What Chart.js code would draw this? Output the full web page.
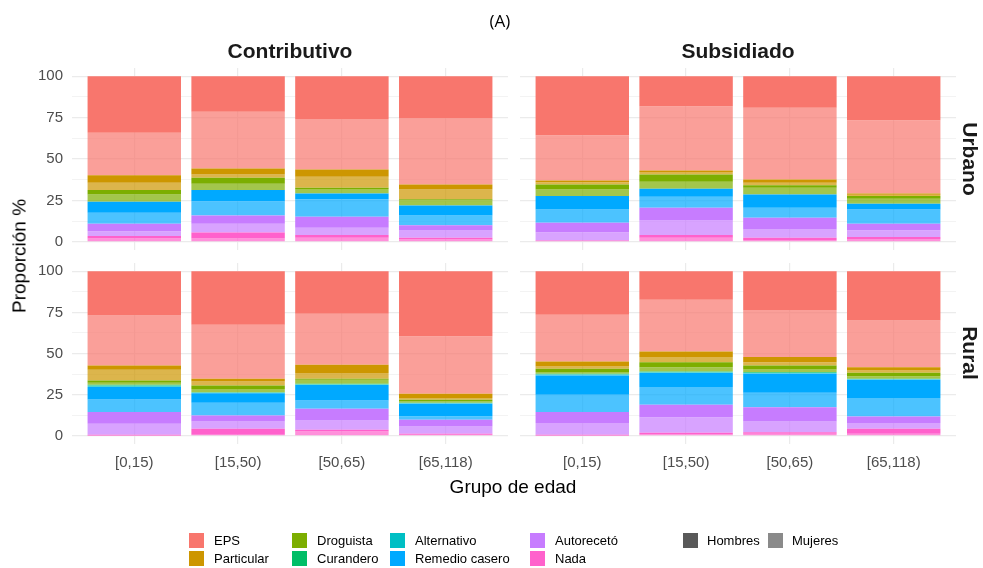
<!DOCTYPE html>
<html><head><meta charset="utf-8">
<script src="https://cdn.jsdelivr.net/npm/chart.js@4.4.1/dist/chart.umd.min.js"></script>
<style>
html,body{margin:0;padding:0;background:#fff;}
#wrap{position:relative;width:983px;height:568px;overflow:hidden;font-family:'Liberation Sans',Arial,sans-serif;background:#fff;}
#wrap canvas{position:absolute;left:0;top:0;}
.t{position:absolute;white-space:nowrap;line-height:1;}
.sq{position:absolute;width:15px;height:15px;}
.lg{position:absolute;white-space:nowrap;font-size:13px;line-height:15px;color:#000;}
</style></head><body>
<div id="wrap">
<canvas id="c0" width="983" height="568"></canvas>
<canvas id="c1" width="983" height="568"></canvas>
<canvas id="c2" width="983" height="568"></canvas>
<canvas id="c3" width="983" height="568"></canvas>
<div class="t" style="left:500px;top:12px;transform:translateX(-50%);font-size:17px;font-family:'Open Sans';">(A)</div>
<div class="t" style="left:290px;top:40px;transform:translateX(-50%);font-size:21px;font-weight:bold;color:#1A1A1A;">Contributivo</div>
<div class="t" style="left:738px;top:40px;transform:translateX(-50%);font-size:21px;font-weight:bold;color:#1A1A1A;">Subsidiado</div>
<div class="t" style="left:970px;top:159px;transform:translate(-50%,-50%) rotate(90deg);font-size:21px;font-weight:bold;color:#1A1A1A;">Urbano</div>
<div class="t" style="left:970px;top:353px;transform:translate(-50%,-50%) rotate(90deg);font-size:21px;font-weight:bold;color:#1A1A1A;">Rural</div>
<div class="t" style="left:19px;top:256px;transform:translate(-50%,-50%) rotate(-90deg);font-size:19px;color:#000;">Proporción %</div>
<div class="t" style="left:513px;top:486px;transform:translate(-50%,-50%);font-size:19px;color:#000;">Grupo de edad</div>
<div id="legend"></div>
</div>
<script>
// ---- data (percent of each bar; order: Urbano-Contributivo, Urbano-Subsidiado, Rural-Contributivo, Rural-Subsidiado; 4 age groups each)
const ageGroups = ['[0,15)', '[15,50)', '[50,65)', '[65,118)'];
const regimes = ['Contributivo', 'Subsidiado'];
const zones = ['Urbano', 'Rural'];
const categories = ['EPS', 'Particular', 'Droguista', 'Curandero', 'Alternativo', 'Remedio casero', 'Autorecetó', 'Nada'];
const sexes = ['Hombres', 'Mujeres'];
const yTickValues = [0, 25, 50, 75, 100];

const eps_h  = [34.2, 21.5, 25.8, 25.2, 35.6, 18.1, 19.1, 26.6, 26.9, 32.6, 25.9, 39.5, 26.5, 17.4, 23.5, 30.0];
const eps_m  = [25.6, 34.2, 30.5, 40.2, 27.4, 38.8, 43.3, 44.2, 30.4, 32.8, 31.0, 35.0, 28.4, 31.4, 28.7, 28.3];
const part_h = [4.6, 3.7, 4.5, 3.0, 1.0, 1.0, 2.0, 0.8, 2.6, 1.6, 5.0, 2.6, 3.0, 3.4, 3.1, 2.0];
const part_m = [4.4, 2.0, 6.6, 6.0, 1.4, 1.5, 1.4, 0.8, 6.5, 2.4, 3.5, 1.0, 1.4, 3.1, 2.0, 1.4];
const drog_h = [2.6, 3.6, 0.8, 0.6, 3.0, 4.4, 1.6, 1.6, 1.4, 2.1, 0.6, 1.0, 2.0, 3.0, 2.4, 2.1];
const drog_m = [4.5, 3.8, 2.6, 3.1, 4.0, 4.2, 4.0, 3.1, 1.2, 2.0, 2.4, 0.9, 1.0, 2.6, 1.6, 1.6];
const cur_h  = [0, 0, 0, 0, 0, 0, 0, 0, 0, 0, 0, 0, 0, 0, 0, 0];
const cur_m  = [0, 0, 0, 0, 0, 0, 0, 0, 0.6, 0.3, 0.4, 0.3, 0.5, 0.5, 0.5, 0.3];
const alt_h  = [0, 0, 0, 0, 0, 0, 0, 0, 0, 0, 0, 0, 0, 0, 0, 0];
const alt_m  = [0, 0, 0, 0, 0, 0, 0, 0, 0.8, 0.3, 0.4, 0.3, 0.6, 0.5, 0.5, 0.3];
const rem_h  = [6.6, 6.7, 3.6, 6.0, 8.1, 4.8, 8.1, 3.4, 7.5, 5.9, 9.3, 7.5, 11.7, 8.5, 11.6, 11.1];
const rem_m  = [6.6, 8.6, 10.5, 6.0, 8.0, 6.7, 6.0, 8.6, 7.7, 7.7, 5.1, 2.2, 10.5, 10.8, 8.7, 11.2];
const auto_h = [4.5, 5.0, 6.6, 3.1, 5.7, 7.6, 7.1, 3.9, 7.1, 3.6, 7.1, 4.0, 6.7, 7.5, 8.7, 4.0];
const auto_m = [3.0, 5.3, 4.5, 4.4, 5.0, 8.9, 5.0, 4.2, 6.7, 4.4, 5.7, 4.5, 7.1, 9.5, 6.5, 3.4];
const nada_h = [1.4, 3.6, 1.6, 1.0, 0.4, 1.6, 1.4, 1.2, 0.4, 3.7, 1.0, 0.6, 0.4, 1.0, 1.0, 3.1];
const nada_m = [2.0, 2.0, 2.4, 1.4, 0.4, 2.4, 1.0, 1.6, 0.2, 0.6, 2.6, 0.6, 0.2, 0.8, 1.2, 1.2];

const seriesByCat = {
  'EPS': [eps_h, eps_m], 'Particular': [part_h, part_m], 'Droguista': [drog_h, drog_m],
  'Curandero': [cur_h, cur_m], 'Alternativo': [alt_h, alt_m], 'Remedio casero': [rem_h, rem_m],
  'Autorecetó': [auto_h, auto_m], 'Nada': [nada_h, nada_m]
};
const catColors = {
  'EPS': [248,118,109], 'Particular': [205,150,0], 'Droguista': [124,174,0], 'Curandero': [0,190,103],
  'Alternativo': [0,191,196], 'Remedio casero': [0,169,255], 'Autorecetó': [199,124,255], 'Nada': [255,97,204]
};
const sexAlpha = [1, 0.7];

const FONT = "'Liberation Sans', Arial, sans-serif";
const panelX = [[72, 508], [520, 956]];
const panelY = [[68, 250], [263, 444]];

function makePanel(canvasId, zi, ri) {
  const off = zi * 8 + ri * 4;
  const datasets = [];
  for (let c = categories.length - 1; c >= 0; c--) {
    const cat = categories[c];
    for (let s = sexes.length - 1; s >= 0; s--) {
      const arr = seriesByCat[cat][s];
      const rgb = catColors[cat];
      datasets.push({
        label: cat + ' ' + sexes[s],
        data: ageGroups.map((g, i) => ({ x: i + 1, y: arr[off + i] })),
        backgroundColor: `rgba(${rgb[0]},${rgb[1]},${rgb[2]},${sexAlpha[s]})`,
        borderWidth: 0,
        barPercentage: 0.9,
        categoryPercentage: 1
      });
    }
  }
  const showY = ri === 0, showX = zi === 1;
  const [L, R] = panelX[ri], [T, B] = panelY[zi];
  const yW = showY ? L : 0;
  const xH = showX ? 568 - B : 0;
  new Chart(document.getElementById(canvasId), {
    type: 'bar',
    data: { datasets },
    options: {
      responsive: false, animation: false, events: [],
      layout: { padding: { left: L - yW, right: 983 - R, top: T, bottom: 568 - B - xH } },
      plugins: { legend: { display: false }, tooltip: { enabled: false } },
      scales: {
        x: {
          type: 'linear', min: 0.4, max: 4.6, stacked: true, offset: false,
          afterBuildTicks: s => { s.ticks = ageGroups.map((g, i) => ({ value: i + 1 })); },
          afterFit: s => { s.height = xH; s.paddingLeft = 0; s.paddingRight = 0; },
          ticks: { display: showX, autoSkip: false, maxRotation: 0, minRotation: 0, padding: 10, color: '#4D4D4D',
                   font: { family: FONT, size: 15 }, callback: v => ageGroups[Math.round(v) - 1] },
          grid: { color: '#EBEBEB', lineWidth: 1.2, drawTicks: false, offset: false },
          border: { display: false }
        },
        y: {
          min: -5, max: 105, stacked: true,
          afterBuildTicks: s => { s.ticks = [0, 12.5, 25, 37.5, 50, 62.5, 75, 87.5, 100].map(v => ({ value: v })); },
          afterFit: s => { s.width = yW; s.paddingTop = 0; s.paddingBottom = 0; },
          ticks: { display: showY, padding: 9, color: '#4D4D4D', font: { family: FONT, size: 15 },
                   callback: v => (yTickValues.includes(v) ? String(v) : '') },
          grid: { color: '#EBEBEB', drawTicks: false,
                  lineWidth: ctx => (ctx.tick && yTickValues.includes(ctx.tick.value) ? 1.2 : 0.6) },
          border: { display: false }
        }
      }
    }
  });
}
makePanel('c0', 0, 0);
makePanel('c1', 0, 1);
makePanel('c2', 1, 0);
makePanel('c3', 1, 1);

// ---- legend (HTML)
const legendCols = [189, 292, 390, 530];
const legendRows = [533, 551];
const lg = document.getElementById('legend');
categories.forEach((cat, i) => {
  const col = Math.floor(i / 2), row = i % 2;
  const rgb = catColors[cat];
  const sq = document.createElement('div');
  sq.className = 'sq';
  sq.style.left = legendCols[col] + 'px'; sq.style.top = legendRows[row] + 'px';
  sq.style.background = `rgb(${rgb[0]},${rgb[1]},${rgb[2]})`;
  lg.appendChild(sq);
  const tx = document.createElement('div');
  tx.className = 'lg';
  tx.style.left = (legendCols[col] + 25) + 'px'; tx.style.top = legendRows[row] + 'px';
  tx.textContent = cat;
  lg.appendChild(tx);
});
const sexCols = [683, 768];
sexes.forEach((s, i) => {
  const sq = document.createElement('div');
  sq.className = 'sq';
  sq.style.left = sexCols[i] + 'px'; sq.style.top = legendRows[0] + 'px';
  sq.style.background = `rgba(89,89,89,${sexAlpha[i]})`;
  lg.appendChild(sq);
  const tx = document.createElement('div');
  tx.className = 'lg';
  tx.style.left = (sexCols[i] + 24) + 'px'; tx.style.top = legendRows[0] + 'px';
  tx.textContent = s;
  lg.appendChild(tx);
});
</script>
</body></html>
